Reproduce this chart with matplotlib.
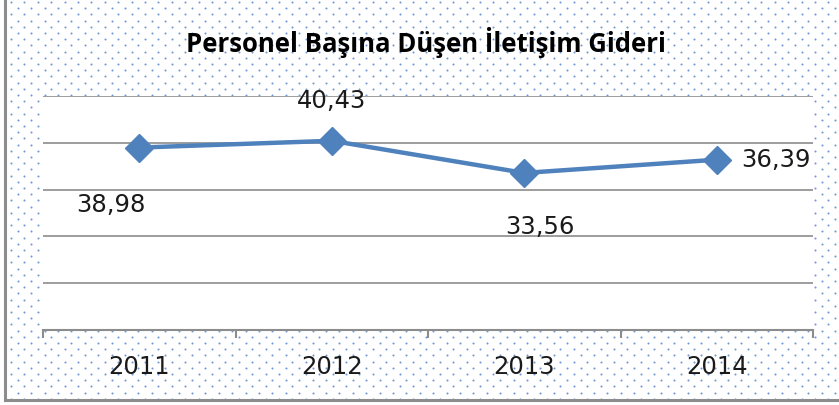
import numpy as np
from matplotlib import pyplot as plt
from matplotlib.lines import Line2D

years = ['2011', '2012', '2013', '2014']
values = [38.98, 40.43, 33.56, 36.39]
labels = ['38,98', '40,43', '33,56', '36,39']

W, H = 839, 405
fig = plt.figure(figsize=(W / 100, H / 100), dpi=100)
fig.patch.set_facecolor('white')

# dotted background pattern
bg = fig.add_axes([0, 0, 1, 1], zorder=-1)
bg.set_xlim(0, W)
bg.set_ylim(H, 0)
bg.axis('off')
ys = np.arange(2, H, 6.2)
pts = []
for i, yy in enumerate(ys):
    off = 0 if i % 2 == 0 else 6.7
    xs = np.arange(11 + off, W, 13.4)
    pts += [(x, yy) for x in xs]
pts = np.array(pts)
bg.scatter(pts[:, 0], pts[:, 1], s=2.2, color='#7099d4', linewidths=0)
# frame (left and bottom edges visible)
bg.add_line(Line2D([5, 5], [0, 400], color='#8c8c8c', lw=2.2))
bg.add_line(Line2D([5, W], [400, 400], color='#8c8c8c', lw=2.2))

left, right, top, bottom = 43, 813, 96, 330
ax = fig.add_axes([left / W, 1 - bottom / H, (right - left) / W, (bottom - top) / H])
ax.set_facecolor('white')
x = np.arange(len(years))
ax.plot(x, values, color='#4f81bd', lw=3.2, marker='D', markersize=14, zorder=3)
ax.set_xlim(-0.5, 3.5)
ax.set_ylim(0, 50)
ax.set_yticks(np.arange(0, 51, 10))
ax.set_yticklabels([])
ax.tick_params(axis='y', length=0)
ax.grid(axis='y', color='#8c8c8c', lw=1.2)
ax.set_axisbelow(True)
for s in ['left', 'right', 'top']:
    ax.spines[s].set_visible(False)
ax.spines['bottom'].set_color('#8c8c8c')
ax.spines['bottom'].set_linewidth(1.5)
ax.set_xticks([-0.5, 0.5, 1.5, 2.5, 3.5])
ax.set_xticklabels([])
ax.tick_params(axis='x', length=6, color='#8c8c8c', width=1.5, direction='out')
for i, yr in enumerate(years):
    ax.text(i, -0.158, yr, transform=ax.get_xaxis_transform(), ha='center', va='center',
            fontsize=17.5, color='#1a1a1a')

offsets = [(-0.15, -12.3), (0, 8.5), (0.08, -11.6), (0.31, 0)]
for i, (v, lab) in enumerate(zip(values, labels)):
    dx, dy = offsets[i]
    ax.text(i + dx, v + dy, lab, ha='center', va='center', fontsize=17.5, color='#1a1a1a')

fig.text(426 / W, 1 - 43 / H, 'Personel Başına Düşen İletişim Gideri', ha='center', va='center',
         fontsize=18.5, fontweight='bold', family='Open Sans', color='black')

fig.savefig('out.png', dpi=100)
